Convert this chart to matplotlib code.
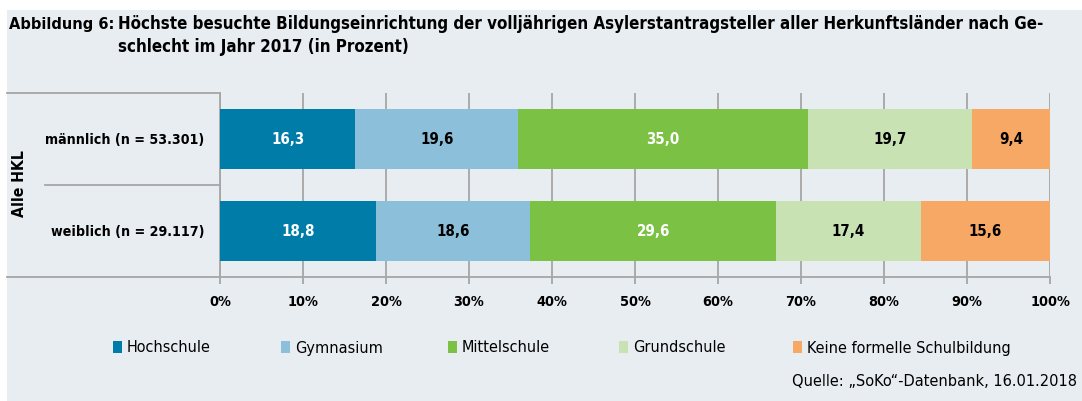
import matplotlib
matplotlib.use("Agg")
import matplotlib.pyplot as plt
from matplotlib.patches import Rectangle, Patch

plt.rcParams['font.family'] = ['DejaVu Sans']
plt.rcParams['font.stretch'] = 'condensed'

groups = ["männlich (n = 53.301)", "weiblich (n = 29.117)"]
categories = ["Hochschule", "Gymnasium", "Mittelschule", "Grundschule",
              "Keine formelle Schulbildung"]
values_m = [16.3, 19.6, 35.0, 19.7, 9.4]
values_w = [18.8, 18.6, 29.6, 17.4, 15.6]
xticks = [0, 10, 20, 30, 40, 50, 60, 70, 80, 90, 100]
xticklabels = [f"{v}%" for v in xticks]

colors = ["#007ca8", "#8cc0da", "#7bc143", "#c9e2b4", "#f7a865"]
text_colors = ["white", "black", "white", "black", "black"]
bg = "#e8edf1"
grid_c = "#a6a6a6"

W, H = 1082, 401
fig = plt.figure(figsize=(W / 100, H / 100), dpi=100)
fig.patch.set_facecolor("white")
renderer = fig.canvas.get_renderer()


def fit_size(s, target, weight="bold", base=12.0):
    t = fig.text(0, 0, s, fontsize=base, fontweight=weight)
    w = t.get_window_extent(renderer).width
    t.remove()
    return base * target / w


fig.patches.append(Rectangle((7 / W, 0), 1 - 7 / W, (H - 10) / H,
                             transform=fig.transFigure, facecolor=bg,
                             edgecolor="none", zorder=-10))

x0, x1, ytop, ybot = 220, 1050, 93, 277
ax = fig.add_axes([x0 / W, (H - ybot) / H, (x1 - x0) / W, (ybot - ytop) / H])
ax.set_facecolor("none")
for s in ax.spines.values():
    s.set_visible(False)

fs_val = fit_size("16,3", 33)
data = [values_m, values_w]
for gi, vals in enumerate(data):
    left = 0
    for ci, v in enumerate(vals):
        ax.barh(gi, v, left=left, height=0.65, color=colors[ci], zorder=3)
        ax.text(left + v / 2, gi, f"{v:.1f}".replace(".", ","), ha="center",
                va="center", color=text_colors[ci], fontsize=fs_val,
                fontweight="bold", zorder=4)
        left += v

fs_tick = fit_size("10%", 31)
fs_cat = fit_size(groups[0], 158)

ax.set_xlim(0, 100)
ax.set_ylim(1.5, -0.5)
ax.set_xticks(xticks)
ax.set_xticklabels(xticklabels, fontsize=fs_tick, fontweight="bold")
ax.tick_params(axis="x", length=5, width=1.3, color=grid_c, pad=8)
ax.set_yticks([0, 1])
ax.set_yticklabels(groups, fontsize=fs_cat, fontweight="bold")
ax.tick_params(axis="y", length=0, pad=11.5)
ax.grid(axis="x", color=grid_c, linewidth=1.3, zorder=0)
ax.set_axisbelow(True)

# frame lines of the category column
px = lambda p: (p - x0) / (x1 - x0)
kw = dict(transform=ax.transAxes, color=grid_c, linewidth=1.3, clip_on=False)
ax.plot([px(7), 0], [1, 1], **kw)
ax.plot([px(7), 1], [0, 0], **kw)
ax.plot([px(45), 0], [0.5, 0.5], **kw)
ax.plot([0, 0], [0, 1], **kw)

fig.text(19 / W, 1 - 184 / H, "Alle HKL", rotation=90, ha="center",
         va="center", fontsize=fit_size("Alle HKL", 67), fontweight="bold")

# title
title1 = "Höchste besuchte Bildungseinrichtung der volljährigen Asylerstantragsteller aller Herkunftsländer nach Ge-"
fs_title = fit_size(title1, 927)
fig.text(9 / W, 1 - 24 / H, "Abbildung 6:", ha="left", va="center",
         fontsize=fs_title * 0.96, fontweight="bold")
fig.text(118 / W, 1 - 24 / H, title1,
         ha="left", va="center", fontsize=fs_title, fontweight="bold")
fig.text(118 / W, 1 - 47 / H, "schlecht im Jahr 2017 (in Prozent)",
         ha="left", va="center", fontsize=fs_title, fontweight="bold")

# legend: one entry per fixed column
fs_leg = (fit_size(categories[4], 205, weight="normal")
          + fit_size(categories[0], 83, weight="normal")) / 2
em = fs_leg * 100 / 72
leg_x = [113, 281, 448, 619, 793]
for i, cat in enumerate(categories):
    fig.legend(handles=[Patch(facecolor=colors[i], edgecolor="none")],
               labels=[cat], loc="center left",
               bbox_to_anchor=(leg_x[i] / W, 1 - 348 / H),
               frameon=False, fontsize=fs_leg, handlelength=9 / em,
               handleheight=0.8, handletextpad=5 / em, borderpad=0,
               borderaxespad=0)

src = "Quelle: \u201eSoKo\u201c-Datenbank, 16.01.2018"
fig.text(1077 / W, 1 - 381 / H, src, ha="right", va="center",
         fontsize=fit_size(src, 284, weight="normal"))

fig.savefig("out.png", dpi=100, facecolor=fig.get_facecolor())
